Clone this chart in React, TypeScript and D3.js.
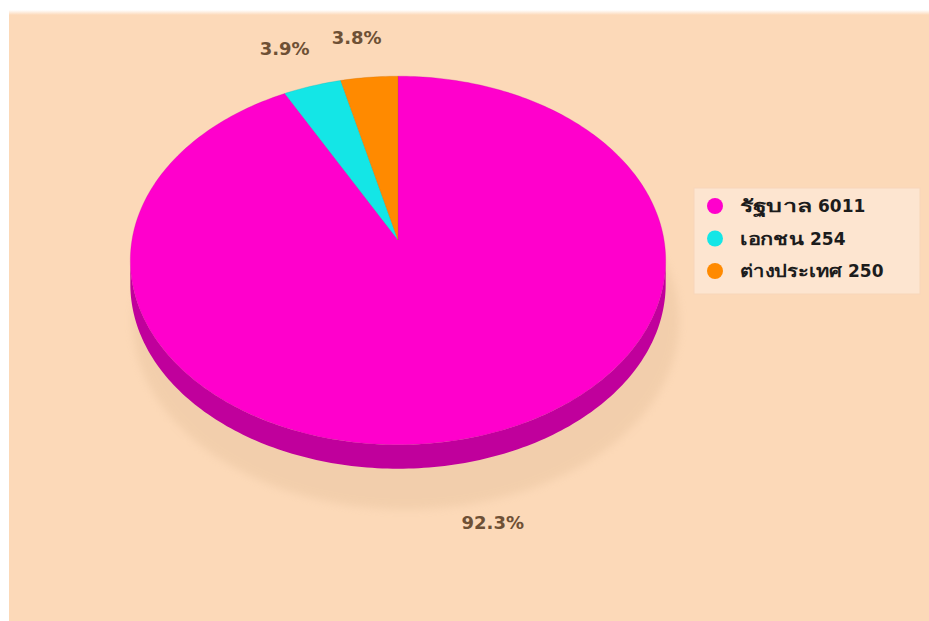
import React from "react";
import * as d3 from "d3";

const categories = ["รัฐบาล", "เอกชน", "ต่างประเทศ"];
const values = [6011, 254, 250];
const topColors = ["#FF00CC", "#14E6E6", "#FF8A00"];
const sideColors = ["#C0009C", "#0FB0B0", "#C86A00"];
const legendWordWidths = [72, 64, 102];

const W = 929;
const H = 621;
const CX = 398;
const CY = 240;
const A = 266;
const B = 182;
const P = 0.111;
const DEPTH = 24;

function proj(theta: number, r = 1): [number, number] {
  const u = r * Math.sin(theta);
  const v = -r * Math.cos(theta);
  const denom = 1 - P * v;
  return [CX + (A * u) / denom, CY + (B * v) / denom];
}

function arcPoints(a0: number, a1: number, r = 1, dy = 0): [number, number][] {
  const n = Math.max(2, Math.ceil(((a1 - a0) / (2 * Math.PI)) * 360));
  return d3.range(n + 1).map((i) => {
    const t = a0 + ((a1 - a0) * i) / n;
    const [x, y] = proj(t, r);
    return [x, y + dy] as [number, number];
  });
}

const line = d3.line<[number, number]>().x((d) => d[0]).y((d) => d[1]);

export default function App() {
  const total = d3.sum(values);
  const arcs = d3
    .pie<number>()
    .sort(null)
    .value((d) => d)(values);

  const thetaR = Math.acos(-P);
  const thetaL = 2 * Math.PI - thetaR;

  const shadowPts = arcPoints(0, 2 * Math.PI, 1.02, DEPTH).map(
    ([x, y]) => [x + 8, y + 36] as [number, number]
  );

  return (
    <div style={{ position: "absolute", left: 0, top: 0 }}>
      <svg width={W} height={H} style={{ display: "block", background: "#ffffff" }}>
        <defs>
          <filter id="blur" x="-20%" y="-20%" width="140%" height="140%">
            <feGaussianBlur stdDeviation="4" />
          </filter>
          <linearGradient id="topfade" x1="0" y1="0" x2="0" y2="1">
            <stop offset="0" stopColor="#FCD9B8" stopOpacity="0" />
            <stop offset="1" stopColor="#FCD9B8" stopOpacity="1" />
          </linearGradient>
        </defs>
        <rect x={9} y={15} width={W - 9} height={H - 15} fill="#FCD9B8" />
        <rect x={9} y={10} width={W - 9} height={5} fill="url(#topfade)" />

        {/* shadow */}
        <path
          d={line(shadowPts) + "Z"}
          fill="#DDB791"
          opacity={0.3}
          filter="url(#blur)"
        />

        {/* side walls */}
        {arcs.map((a, i) => {
          const s = Math.max(a.startAngle, thetaR);
          const e = Math.min(a.endAngle, thetaL);
          if (e <= s) return null;
          const top = arcPoints(s, e, 1, 0);
          const bottom = arcPoints(s, e, 1, DEPTH).reverse();
          return (
            <path
              key={"side" + i}
              d={line([...top, ...bottom]) + "Z"}
              fill={sideColors[i]}
            />
          );
        })}

        {/* top faces */}
        {arcs.map((a, i) => {
          const pts: [number, number][] = [[CX, CY], ...arcPoints(a.startAngle, a.endAngle)];
          return (
            <path
              key={"top" + i}
              d={line(pts) + "Z"}
              fill={topColors[i]}
              stroke={sideColors[i]}
              strokeOpacity={0.35}
              strokeWidth={0.8}
            />
          );
        })}

        {/* percentage labels */}
        {arcs.map((a, i) => {
          const mid = (a.startAngle + a.endAngle) / 2;
          const [x, y] = proj(mid, 1.3);
          const lower = -Math.cos(mid) > 0;
          const yy = y + 3 + (lower ? DEPTH / 2 : 0);
          return (
            <text
              key={"lab" + i}
              x={x - (lower ? 2 : 5)}
              y={yy}
              textAnchor="middle"
              dominantBaseline="central"
              fontFamily="'DejaVu Sans', Verdana, sans-serif"
              fontWeight="bold"
              fontSize={18}
              fill="#6E5035"
            >
              {((a.value / total) * 100).toFixed(1) + "%"}
            </text>
          );
        })}

        {/* legend */}
        <g>
          <rect x={694} y={188} width={226} height={106} fill="#FDE5D0" stroke="#F7D6B9" strokeWidth={1} />
          {categories.map((c, i) => {
            const cy = 206 + i * 32.5;
            return (
              <g key={"leg" + i}>
                <circle cx={715} cy={cy} r={8} fill={topColors[i]} />
                <text
                  x={740}
                  y={cy + 6}
                  fontFamily="'DejaVu Sans', Tahoma, 'Noto Sans', sans-serif"
                  fontWeight="bold"
                  fontSize={17}
                  fill="#1C1C1C"
                >
                  <tspan textLength={legendWordWidths[i]} lengthAdjust="spacingAndGlyphs">
                    {c}
                  </tspan>
                  <tspan x={740 + legendWordWidths[i] + 6}>{String(values[i])}</tspan>
                </text>
              </g>
            );
          })}
        </g>
      </svg>
    </div>
  );
}
